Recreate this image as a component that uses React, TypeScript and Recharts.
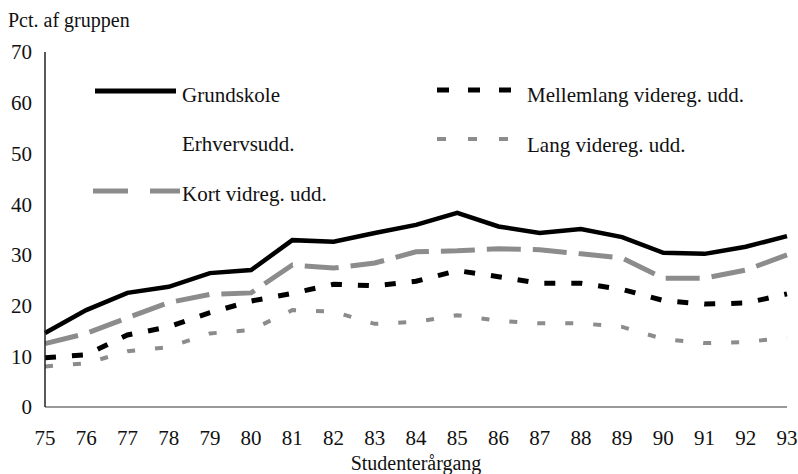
import { LineChart, Line, XAxis, YAxis } from "recharts";

const years = [75, 76, 77, 78, 79, 80, 81, 82, 83, 84, 85, 86, 87, 88, 89, 90, 91, 92, 93];
const grundskole = [14.6, 19.1, 22.5, 23.7, 26.4, 27.0, 32.9, 32.6, 34.3, 35.9, 38.3, 35.6, 34.3, 35.1, 33.5, 30.4, 30.2, 31.6, 33.7];
const kortVidereg = [12.5, 14.5, 17.6, 20.6, 22.2, 22.5, 28.0, 27.4, 28.4, 30.6, 30.8, 31.2, 31.0, 30.2, 29.4, 25.4, 25.4, 27.0, 30.0];
const mellemlang = [9.7, 10.3, 14.2, 15.8, 18.6, 20.9, 22.4, 24.2, 23.9, 24.8, 26.9, 25.7, 24.4, 24.4, 23.2, 21.0, 20.3, 20.5, 22.3];
const langVidereg = [8.0, 8.6, 11.0, 11.8, 14.5, 15.2, 19.1, 18.8, 16.4, 16.8, 18.1, 17.0, 16.5, 16.5, 15.8, 13.4, 12.6, 12.8, 13.7];
const yTicks = [0, 10, 20, 30, 40, 50, 60, 70];

const data = years.map((year, i) => ({
  year,
  grundskole: grundskole[i],
  kort: kortVidereg[i],
  mellemlang: mellemlang[i],
  lang: langVidereg[i],
}));

const font = "'Liberation Serif', 'Times New Roman', serif";
const gray = "#8c8c8c";

const legendItems = [
  { label: "Grundskole", x1: 95, x2: 176, y: 91, tx: 182, ty: 102, stroke: "#000", width: 5, dash: undefined },
  { label: "Erhvervsudd.", x1: 0, x2: 0, y: 0, tx: 182, ty: 151, stroke: "none", width: 0, dash: undefined },
  { label: "Kort vidreg. udd.", x1: 93, x2: 180, y: 191, tx: 182, ty: 201, stroke: gray, width: 5, dash: "35 22" },
  { label: "Mellemlang videreg. udd.", x1: 437, x2: 511, y: 90, tx: 527, ty: 102, stroke: "#000", width: 5, dash: "12 19" },
  { label: "Lang videreg. udd.", x1: 437, x2: 509, y: 139, tx: 527, ty: 152, stroke: gray, width: 4, dash: "9 22" },
];

export default function App() {
  return (
    <div style={{ position: "absolute", left: 0, top: 0, width: 798, height: 474, background: "#fff" }}>
      <LineChart width={798} height={474} data={data} margin={{ top: 52, right: 11, bottom: 0, left: 5 }}>
        <XAxis
          dataKey="year"
          type="number"
          domain={[75, 93]}
          ticks={years}
          interval={0}
          height={67}
          tickLine={false}
          tickMargin={17}
          axisLine={{ stroke: "#777", strokeWidth: 1.5 }}
          tick={{ fill: "#111", fontSize: 21, fontFamily: font }}
          label={{ value: "Studenterårgang", position: "insideBottom", offset: 4, fill: "#111", fontSize: 20, fontFamily: font }}
        />
        <XAxis xAxisId="top" orientation="top" dataKey="year" type="number" domain={[75, 93]} height={0} tick={false} tickLine={false} axisLine={{ stroke: "#999", strokeWidth: 1.5 }} />
        <YAxis
          domain={[0, 70]}
          ticks={yTicks}
          interval={0}
          width={40}
          tickLine={false}
          tickMargin={7}
          axisLine={{ stroke: "#222", strokeWidth: 1.5 }}
          tick={{ fill: "#111", fontSize: 21, fontFamily: font }}
        />
        <YAxis yAxisId="right" orientation="right" domain={[0, 70]} width={0} tick={false} tickLine={false} axisLine={{ stroke: "#444", strokeWidth: 1.5, strokeDasharray: "1 1" }} />
        <Line type="linear" dataKey="lang" stroke={gray} strokeWidth={4} strokeDasharray="8 20" dot={false} isAnimationActive={false} />
        <Line type="linear" dataKey="mellemlang" stroke="#000" strokeWidth={5} strokeDasharray="11 16" dot={false} isAnimationActive={false} />
        <Line type="linear" dataKey="kort" stroke={gray} strokeWidth={5} strokeDasharray="34 12" dot={false} isAnimationActive={false} />
        <Line type="linear" dataKey="grundskole" stroke="#000" strokeWidth={4.5} dot={false} isAnimationActive={false} />
      </LineChart>
      <svg width={798} height={474} style={{ position: "absolute", left: 0, top: 0, pointerEvents: "none" }}>
        <text x={8} y={27} fontFamily={font} fontSize={20} fill="#111">Pct. af gruppen</text>
        {legendItems.map((item) => (
          <g key={item.label}>
            {item.width > 0 && (
              <line x1={item.x1} x2={item.x2} y1={item.y} y2={item.y} stroke={item.stroke} strokeWidth={item.width} strokeDasharray={item.dash} />
            )}
            <text x={item.tx} y={item.ty} fontFamily={font} fontSize={21} fill="#111">{item.label}</text>
          </g>
        ))}
      </svg>
    </div>
  );
}
